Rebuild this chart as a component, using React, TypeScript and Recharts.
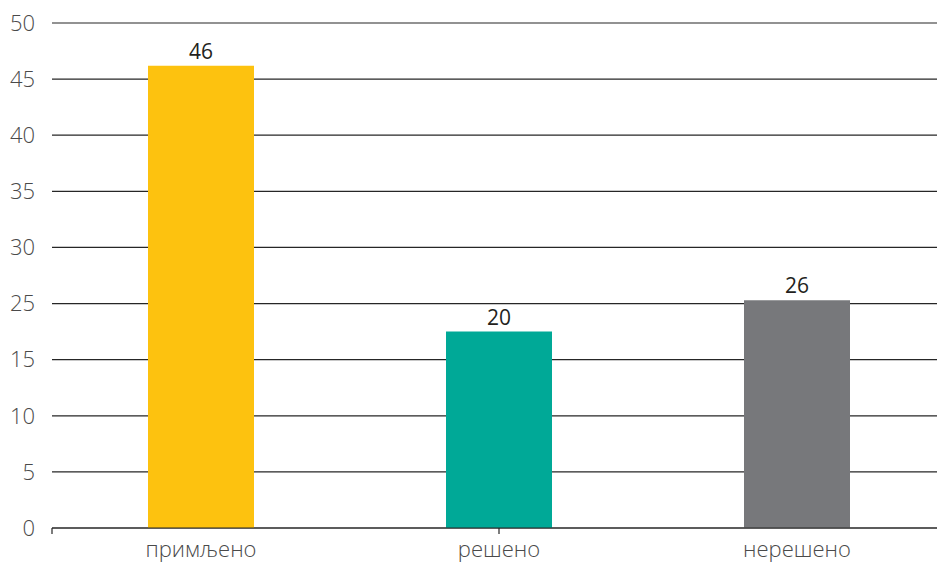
import { BarChart, Bar, XAxis, YAxis, CartesianGrid, Cell, LabelList } from 'recharts'

const categories = ['примљено', 'решено', 'нерешено']
// values printed above the bars
const valueLabels = [46, 20, 26]
// bar tops as read against the (uneven) y-axis of the picture
const barHeights = [46.2, 20, 25.3]
const colors = ['#FDC20F', '#00A997', '#77787B']
// tick labels of the y-axis as printed (there is no "20")
const yTickLabels = ['0', '5', '10', '15', '25', '30', '35', '40', '45', '50']
const yTicks = [0, 5, 10, 15, 20, 25, 30, 35, 40, 45]
const boundaryTicks = [0, 1, 2, 3]

// the axis skips "20": the step between 15 and 25 is as tall as every other step
const toAxis = (v: number) => (v <= 15 ? v : v <= 25 ? 15 + (v - 15) / 2 : v - 5)

const data = categories.map((name, i) => ({
  name,
  plot: toAxis(barHeights[i]),
  label: valueLabels[i],
}))

const FONT = '"Open Sans", "Noto Sans", sans-serif'
const C = { grid: '#262626', tick: '#4a4a4a', ink: '#231f20' }

export default function App() {
  return (
    <div style={{ position: 'fixed', left: 0, top: 0, width: 937, height: 562, overflow: 'hidden', background: '#fff' }}>
      <BarChart width={946} height={562} data={data} margin={{ top: 23, right: 0, left: 0, bottom: 0 }} style={{ fontFamily: FONT }}>
        <CartesianGrid xAxisId="z" vertical={false} stroke={C.grid} strokeWidth={1.2} />
        {/* axis line with tick marks on the category boundaries */}
        <XAxis xAxisId="b" type="number" domain={[0, 3]} ticks={boundaryTicks} allowDataOverflow height={6} interval={0}
          tickFormatter={() => ''} tick={{ fontSize: 1 }} tickSize={6}
          tickLine={{ stroke: C.grid, strokeWidth: 1.2 }} axisLine={{ stroke: C.grid, strokeWidth: 1.2 }} />
        <XAxis xAxisId="z" dataKey="name" height={28} axisLine={false} tickLine={false} tickSize={0} tickMargin={7}
          tick={{ fontSize: 22, fill: C.tick, fontWeight: 300 }} interval={0} />
        <YAxis domain={[0, 45]} ticks={yTicks} width={52} axisLine={false} tickLine={false} tickSize={6} tickMargin={11}
          tickFormatter={(v: number) => yTickLabels[Math.round(v / 5)]}
          tick={{ fontSize: 22, fill: C.tick, fontWeight: 300 }} />
        <Bar xAxisId="z" dataKey="plot" barSize={106} isAnimationActive={false}>
          {data.map((_, i) => <Cell key={i} fill={colors[i]} />)}
          <LabelList dataKey="label" position="top" offset={7} fill={C.ink} fontSize={21} />
        </Bar>
      </BarChart>
    </div>
  )
}
